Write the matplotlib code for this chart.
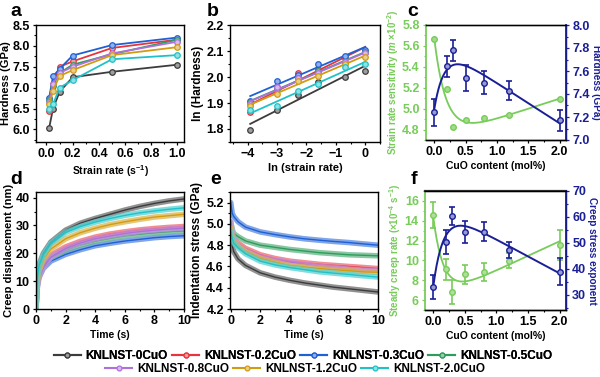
import numpy as np
import matplotlib
matplotlib.use('Agg')
import matplotlib.pyplot as plt
from matplotlib.lines import Line2D
from matplotlib.ticker import MultipleLocator
from matplotlib.colors import to_rgb

plt.rcParams['font.family'] = ['Liberation Sans', 'DejaVu Sans']
plt.rcParams['font.weight'] = 'bold'
plt.rcParams['axes.labelweight'] = 'bold'
plt.rcParams['mathtext.fontset'] = 'custom'
plt.rcParams['mathtext.rm'] = 'Liberation Sans:bold'
plt.rcParams['mathtext.it'] = 'Liberation Sans:bold:italic'
plt.rcParams['mathtext.bf'] = 'Liberation Sans:bold'
plt.rcParams['font.size'] = 9
plt.rcParams['axes.linewidth'] = 1.0
for ax_ in ('xtick', 'ytick'):
    plt.rcParams[ax_ + '.direction'] = 'out'
    plt.rcParams[ax_ + '.major.size'] = 2.5
    plt.rcParams[ax_ + '.minor.size'] = 1.5
    plt.rcParams[ax_ + '.major.width'] = 0.9
    plt.rcParams[ax_ + '.minor.width'] = 0.8
    plt.rcParams[ax_ + '.major.pad'] = 2
    plt.rcParams[ax_ + '.labelsize'] = 9

# ---- data ----
names = ['KNLNST-0CuO', 'KNLNST-0.2CuO', 'KNLNST-0.3CuO', 'KNLNST-0.5CuO',
         'KNLNST-0.8CuO', 'KNLNST-1.2CuO', 'KNLNST-2.0CuO']
colors = ['#3c3c3c', '#e8353d', '#1f60d4', '#2e9c5c', '#b070dc', '#d29c12', '#1fc2c6']

# panel a / b
strain_rate = [0.02, 0.05, 0.1, 0.2, 0.5, 1.0]
hardness = [
    [6.03, 6.50, 6.90, 7.25, 7.38, 7.55],
    [6.45, 7.10, 7.50, 7.63, 7.95, 8.15],
    [6.75, 7.27, 7.45, 7.77, 8.02, 8.20],
    [6.70, 7.05, 7.35, 7.55, 7.80, 8.15],
    [6.65, 7.10, 7.35, 7.50, 7.82, 8.10],
    [6.60, 6.93, 7.28, 7.42, 7.78, 7.97],
    [6.50, 6.60, 7.00, 7.18, 7.68, 7.78],
]

# panel c / f
cuo = [0.0, 0.2, 0.3, 0.5, 0.8, 1.2, 2.0]
m_sens = [5.67, 5.19, 4.82, 4.89, 4.91, 4.94, 5.09]
h_mean = [7.24, 7.64, 7.78, 7.54, 7.50, 7.43, 7.17]
h_err = [0.12, 0.09, 0.09, 0.11, 0.10, 0.085, 0.09]
creep_rate = [14.55, 9.12, 6.84, 8.61, 8.85, 9.97, 11.56]
creep_rate_err = [1.32, 1.05, 1.22, 0.97, 0.88, 0.78, 1.47]
stress_exp = [33.2, 50.5, 60.4, 54.1, 54.4, 47.3, 39.0]
stress_exp_err = [4.6, 4.6, 3.5, 4.2, 3.8, 2.9, 5.3]

# panel d
creep_t = [0, 0.05, 0.1, 0.2, 0.5, 1, 2, 3, 4, 5, 6, 7, 8, 9, 10]
creep_disp = [
    [0, 8.0, 12.0, 15.8, 20.0, 24.0, 28.3, 30.8, 32.5, 34.0, 35.5, 36.8, 37.9, 38.8, 39.5],
    [0, 6.5, 9.5, 12.5, 16.3, 19.3, 22.3, 24.3, 25.8, 26.9, 27.7, 28.4, 28.9, 29.3, 29.6],
    [0, 5.5, 8.5, 11.5, 14.6, 17.2, 19.6, 21.3, 22.7, 23.6, 24.4, 25.0, 25.6, 26.0, 26.3],
    [0, 6.0, 9.0, 12.0, 15.8, 18.4, 21.1, 23.0, 24.4, 25.4, 26.3, 26.9, 27.4, 27.8, 28.1],
    [0, 5.5, 8.0, 11.0, 15.0, 18.6, 21.7, 23.7, 25.2, 26.2, 27.1, 27.8, 28.3, 28.7, 29.0],
    [0, 7.0, 10.0, 13.5, 18.0, 21.5, 25.2, 27.4, 29.0, 30.3, 31.3, 32.2, 33.0, 33.5, 34.0],
    [0, 8.0, 11.5, 15.5, 19.5, 23.5, 27.5, 29.6, 31.2, 32.5, 33.6, 34.5, 35.2, 35.8, 36.3],
]

# panel e
stress_t = [0, 0.1, 0.2, 0.5, 1, 2, 3, 4, 5, 6, 7, 8, 9, 10]
ind_stress = [
    [4.89, 4.80, 4.74, 4.67, 4.61, 4.54, 4.50, 4.47, 4.445, 4.425, 4.405, 4.39, 4.375, 4.36],
    [4.96, 4.88, 4.85, 4.82, 4.77, 4.71, 4.675, 4.65, 4.635, 4.62, 4.61, 4.60, 4.59, 4.58],
    [5.20, 5.10, 5.07, 5.02, 4.97, 4.925, 4.90, 4.878, 4.86, 4.847, 4.835, 4.825, 4.812, 4.80],
    [5.02, 4.95, 4.91, 4.88, 4.84, 4.80, 4.78, 4.76, 4.745, 4.73, 4.72, 4.71, 4.705, 4.70],
    [5.02, 4.92, 4.87, 4.80, 4.75, 4.69, 4.66, 4.64, 4.62, 4.60, 4.59, 4.575, 4.565, 4.56],
    [4.96, 4.88, 4.84, 4.79, 4.74, 4.675, 4.64, 4.61, 4.595, 4.58, 4.57, 4.56, 4.55, 4.545],
    [4.925, 4.86, 4.82, 4.775, 4.72, 4.65, 4.615, 4.59, 4.57, 4.55, 4.537, 4.525, 4.512, 4.50],
]

GREEN = '#78cc5a'
NAVY = '#1a1f96'


def light(c, f=0.5):
    r, g, b = to_rgb(c)
    return (r + (1 - r) * f, g + (1 - g) * f, b + (1 - b) * f)


def exp_lin_fit(x, y):
    # y = A + B*x + C*exp(-x/tau), tau picked on a grid
    x = np.asarray(x, float)
    y = np.asarray(y, float)
    best = None
    for tau in np.linspace(0.16, 0.6, 100):
        M = np.column_stack([np.ones_like(x), x, np.exp(-x / tau)])
        coef = np.linalg.lstsq(M, y, rcond=None)[0]
        err = np.sum((M @ coef - y) ** 2)
        if best is None or err < best[0]:
            best = (err, tau, coef)
    _, tau, coef = best
    xs = np.linspace(x.min(), x.max(), 300)
    return xs, coef[0] + coef[1] * xs + coef[2] * np.exp(-xs / tau)


W, H = 600, 377
fig = plt.figure(figsize=(6, 3.77), dpi=100)


def add_ax(l, r, t, b):
    return fig.add_axes([l / W, 1 - b / H, (r - l) / W, (b - t) / H])


ax_a = add_ax(36, 184, 25, 142)
ax_b = add_ax(230, 380, 25, 142)
ax_c = add_ax(426, 566, 25, 140)
ax_d = add_ax(36, 184, 192, 309)
ax_e = add_ax(230, 378, 192, 309)
ax_f = add_ax(425, 566, 191, 310)

# ---- a ----
for h, c in zip(hardness, colors):
    ax_a.plot(strain_rate, h, '-o', color=c, mfc=light(c), mec=c, ms=4, mew=0.9, lw=1.3)
ax_a.set_xlim(-0.08, 1.05)
ax_a.set_ylim(5.7, 8.5)
ax_a.xaxis.set_major_locator(MultipleLocator(0.2))
ax_a.xaxis.set_minor_locator(MultipleLocator(0.1))
ax_a.yaxis.set_major_locator(MultipleLocator(0.5))
ax_a.yaxis.set_minor_locator(MultipleLocator(0.25))
ax_a.set_xlabel('Strain rate (s$^{-1}$)', fontsize=7.5, labelpad=2)
ax_a.set_ylabel('Hardness (GPa)', fontsize=8, labelpad=1)

# ---- b ----
ln_rate = np.log(strain_rate)
for h, c in zip(hardness, colors):
    ln_h = np.log(h)
    k, b0 = np.polyfit(ln_rate, ln_h, 1)
    ax_b.plot(ln_rate, k * ln_rate + b0, '-', color=c, lw=1.3)
    ax_b.plot(ln_rate, ln_h, 'o', color=c, mfc=light(c), mec=c, ms=4, mew=0.9)
ax_b.set_xlim(-4.6, 0.5)
ax_b.set_ylim(1.75, 2.2)
ax_b.xaxis.set_major_locator(MultipleLocator(1))
ax_b.xaxis.set_minor_locator(MultipleLocator(0.5))
ax_b.yaxis.set_major_locator(MultipleLocator(0.1))
ax_b.yaxis.set_minor_locator(MultipleLocator(0.05))
ax_b.set_xticks([-4, -3, -2, -1, 0])
ax_b.set_xticklabels(['\u22124', '\u22123', '\u22122', '\u22121', '0'])
ax_b.set_xlabel('ln (strain rate)', fontsize=8, labelpad=2)
ax_b.set_ylabel('ln (Hardness)', fontsize=8.5, labelpad=2)


def style_twin(ax, ax2):
    ax.spines['left'].set_color(GREEN)
    ax.spines['left'].set_linewidth(1.3)
    ax.tick_params(axis='y', which='both', colors=GREEN)
    ax2.spines['right'].set_color(NAVY)
    ax2.spines['right'].set_linewidth(1.3)
    ax2.spines['left'].set_visible(False)
    ax2.tick_params(axis='y', which='both', colors=NAVY)
    ax.xaxis.set_major_locator(MultipleLocator(0.5))
    ax.xaxis.set_minor_locator(MultipleLocator(0.25))
    ax.set_xlim(-0.13, 2.1)


# ---- c ----
ax_c2 = ax_c.twinx()
xs, ys = exp_lin_fit(cuo, m_sens)
ax_c.plot(xs, ys, color=GREEN, lw=1.3)
ax_c.plot(cuo, m_sens, 'o', color=GREEN, mfc=light(GREEN, 0.3), mec=GREEN, ms=4)
xs, ys = exp_lin_fit(cuo, h_mean)
ax_c2.plot(xs, ys, color=NAVY, lw=1.4)
ax_c2.errorbar(cuo, h_mean, yerr=h_err, fmt='o', color=NAVY, mfc=light(NAVY, 0.55),
               mec=NAVY, ms=4, elinewidth=1.2, capsize=2, capthick=1.2)
ax_c.set_ylim(4.7, 5.8)
ax_c2.set_ylim(7.0, 8.0)
ax_c.yaxis.set_major_locator(MultipleLocator(0.2))
ax_c.yaxis.set_minor_locator(MultipleLocator(0.1))
ax_c2.yaxis.set_major_locator(MultipleLocator(0.2))
ax_c2.yaxis.set_minor_locator(MultipleLocator(0.1))
style_twin(ax_c, ax_c2)
ax_c.spines['top'].set_color('#555555')
ax_c.set_xlabel('CuO content (mol%)', fontsize=7.5, labelpad=2)
ax_c.set_ylabel('Strain rate sensitivity ($\\mathit{m}$ \u00d710$^{-2}$)', color=GREEN,
                fontsize=7, labelpad=1)
ax_c2.set_ylabel('Hardness (GPa)', color=NAVY, fontsize=7.2, rotation=270, labelpad=8)

# ---- d ----
for d, c in zip(creep_disp, colors):
    ax_d.plot(creep_t, d, '-', color=light(c, 0.25), lw=4, alpha=0.75, solid_capstyle='round')
    ax_d.plot(creep_t, d, '-', color=c, lw=1.0)
ax_d.set_xlim(0, 10)
ax_d.set_ylim(0, 42)
ax_d.xaxis.set_major_locator(MultipleLocator(2))
ax_d.xaxis.set_minor_locator(MultipleLocator(1))
ax_d.yaxis.set_major_locator(MultipleLocator(10))
ax_d.yaxis.set_minor_locator(MultipleLocator(5))
ax_d.set_xlabel('Time (s)', fontsize=7.5, labelpad=2)
ax_d.set_ylabel('Creep displacement (nm)', fontsize=8, labelpad=1)

# ---- e ----
for s, c in zip(ind_stress, colors):
    ax_e.plot(stress_t, s, '-', color=light(c, 0.25), lw=4, alpha=0.75, solid_capstyle='round')
    ax_e.plot(stress_t, s, '-', color=c, lw=1.0)
ax_e.set_xlim(-0.05, 10)
ax_e.set_ylim(4.2, 5.3)
ax_e.xaxis.set_major_locator(MultipleLocator(2))
ax_e.xaxis.set_minor_locator(MultipleLocator(1))
ax_e.yaxis.set_major_locator(MultipleLocator(0.2))
ax_e.yaxis.set_minor_locator(MultipleLocator(0.1))
ax_e.set_xlabel('Time (s)', fontsize=7.5, labelpad=2)
ax_e.set_ylabel('Indentation stress (GPa)', fontsize=8.5, labelpad=2)

# ---- f ----
ax_f2 = ax_f.twinx()
xs, ys = exp_lin_fit(cuo, creep_rate)
ax_f.plot(xs, ys, color=GREEN, lw=1.3)
ax_f.errorbar(cuo, creep_rate, yerr=creep_rate_err, fmt='o', color=GREEN, mfc=light(GREEN, 0.4),
              mec=GREEN, ms=4, elinewidth=1.2, capsize=2, capthick=1.2)
xs, ys = exp_lin_fit(cuo, stress_exp)
ax_f2.plot(xs, ys, color=NAVY, lw=1.4)
ax_f2.errorbar(cuo, stress_exp, yerr=stress_exp_err, fmt='o', color=NAVY, mfc=light(NAVY, 0.55),
               mec=NAVY, ms=4, elinewidth=1.2, capsize=2, capthick=1.2)
ax_f.set_ylim(5, 17)
ax_f2.set_ylim(24.2, 70)
ax_f.yaxis.set_major_locator(MultipleLocator(2))
ax_f.yaxis.set_minor_locator(MultipleLocator(1))
ax_f2.yaxis.set_major_locator(MultipleLocator(10))
ax_f2.yaxis.set_minor_locator(MultipleLocator(5))
style_twin(ax_f, ax_f2)
ax_f.spines['top'].set_color('#333333')
ax_f.spines['top'].set_linewidth(1.6)
ax_f.set_xlabel('CuO content (mol%)', fontsize=7.5, labelpad=2)
ax_f.set_ylabel('Steady creep rate (\u00d710$^{-4}$ s$^{-1}$)', color=GREEN,
                fontsize=7, labelpad=1)
ax_f2.set_ylabel('Creep stress exponent', color=NAVY, fontsize=7.2, rotation=270, labelpad=8)

# panel letters
for lab, x, y in [('a', 16, 12), ('b', 213, 12), ('c', 413, 12),
                  ('d', 16, 179), ('e', 216, 179), ('f', 414, 179)]:
    fig.text(x / W, 1 - y / H, lab, fontsize=14, fontweight='bold', ha='center', va='center')

# legend in two centred rows
handles = [Line2D([], [], color=c, lw=1.5, marker='o', ms=3.5, mfc=light(c), mec=c, mew=0.9)
           for c in colors]
leg_kw = dict(frameon=False, fontsize=8.5, handlelength=2.3, handletextpad=0.4,
              columnspacing=0.35, borderpad=0, borderaxespad=0, numpoints=1)
leg1 = fig.legend(handles[:4], names[:4], loc='center', ncol=4,
                  bbox_to_anchor=(303 / W, 1 - 356 / H), **leg_kw)
fig.add_artist(leg1)
fig.legend(handles[4:], names[4:], loc='center', ncol=3,
           bbox_to_anchor=(295 / W, 1 - 369 / H), **leg_kw)

fig.savefig('out.png', dpi=100)
